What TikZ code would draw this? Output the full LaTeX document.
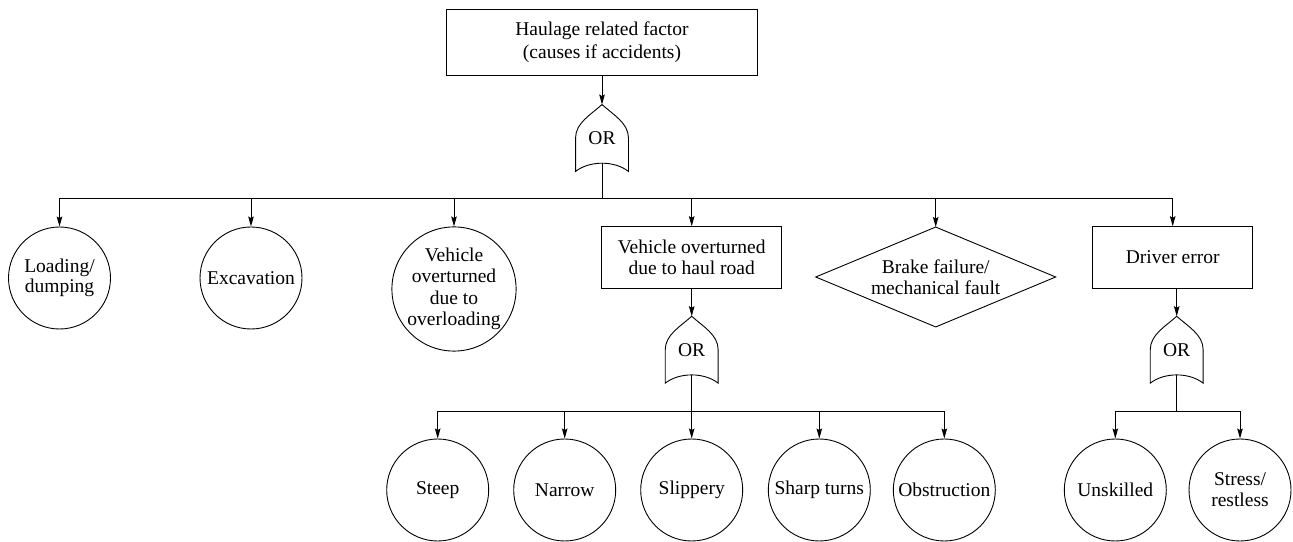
\documentclass[tikz,border=0pt]{standalone}
\usepackage{fontspec}
\setmainfont{Liberation Serif}
\newfontfamily\figfont{Liberation Serif}
\usetikzlibrary{arrows.meta,calc}
\newcommand\orgateshape[1]{%
  \draw (#1.south west) -- (#1.west)
    .. controls ($(#1.west)+(0,15)$) and ($(#1.north)+(-11,-10)$) .. (#1.north)
    .. controls ($(#1.north)+(11,-10)$) and ($(#1.east)+(0,15)$) .. (#1.east)
    -- (#1.south east)
    .. controls ($(#1.south east)+(-14,11)$) and ($(#1.south west)+(14,11)$) .. (#1.south west) -- cycle;}
\begin{document}
\begin{tikzpicture}[x=1pt,y=1pt,line width=0.9pt,
  txt/.style={font=\figfont\fontsize{19.5}{21}\selectfont, align=center, inner sep=0pt},
  boxnode/.style={txt, draw, rectangle},
  evt/.style={txt, draw, circle, minimum size=102pt},
  bigevt/.style={txt, draw, circle, minimum size=123pt},
  gatenode/.style={txt, rectangle, minimum width=52pt, minimum height=66pt},
  dianode/.style={txt, rectangle, minimum width=239pt, minimum height=99pt},
  arr/.style={-{Stealth[length=10pt,width=5.5pt,inset=1.5pt]}}]
\useasboundingbox (0,0) rectangle (1293,541);

% top event
\node[boxnode, minimum width=310.6pt, minimum height=65.7pt, font=\figfont\fontsize{19.5}{23}\selectfont] (top) at (602,498.8) {Haulage related factor\\(causes if accidents)};
\node[gatenode] (g1) at (602,403) {OR};
\orgateshape{g1}
\draw[arr] (top.south) -- (g1.north);
\coordinate (b1) at (602,343);
\draw ([yshift=8pt]g1.south) -- (b1);

% level 1
\node[evt, font=\figfont\fontsize{19.5}{20}\selectfont] (load) at (59.5,263) {Loading/\\dumping};
\node[evt] (exc) at (251,263) {Excavation};
\node[bigevt, font=\figfont\fontsize{19.5}{21.5}\selectfont] (over) at (454,252) {Vehicle\\overturned\\due to\\overloading};
\node[boxnode, minimum width=180pt, minimum height=61.6pt] (haul) at (691.7,283.5) {Vehicle overturned\\due to haul road};
\node[dianode] (brake) at (935.7,264) {Brake failure/\\mechanical fault};
\draw (brake.north) -- (brake.east) -- (brake.south) -- (brake.west) -- cycle;
\node[boxnode, minimum width=160pt, minimum height=61.6pt] (drv) at (1172.7,283.5) {Driver error};

\draw[arr] (b1) -| (load.north);
\draw[arr] (b1) -| (exc.north);
\draw[arr] (b1) -| (over.north);
\draw[arr] (b1) -| (haul.north);
\draw[arr] (b1) -| (brake.north);
\draw[arr] (b1) -| (drv.north);

% haul road gate
\node[gatenode] (g2) at (691.7,191.3) {OR};
\orgateshape{g2}
\draw[arr] (haul.south) -- (g2.north);
\coordinate (b2) at (691.7,130);
\draw ([yshift=8pt]g2.south) -- (b2);

\node[evt] (steep) at (437.7,51) {Steep};
\node[evt] (narrow) at (564.7,51) {Narrow};
\node[evt] (slip) at (691.7,51) {Slippery};
\node[evt] (sharp) at (819.3,51) {Sharp turns};
\node[evt] (obst) at (944.3,51) {Obstruction};
\draw[arr] (b2) -| (steep.north);
\draw[arr] (b2) -| (narrow.north);
\draw[arr] (b2) -- (slip.north);
\draw[arr] (b2) -| (sharp.north);
\draw[arr] (b2) -| (obst.north);

% driver gate
\node[gatenode] (g3) at (1176.7,191.3) {OR};
\orgateshape{g3}
\draw[arr] (g3.north |- drv.south) -- (g3.north);
\coordinate (b3) at (1176.7,130);
\draw ([yshift=8pt]g3.south) -- (b3);

\node[evt] (unsk) at (1115.3,51) {Unskilled};
\node[evt] (stress) at (1240,51) {Stress/\\restless};
\draw[arr] (b3) -| (unsk.north);
\draw[arr] (b3) -| (stress.north);
\end{tikzpicture}
\end{document}
